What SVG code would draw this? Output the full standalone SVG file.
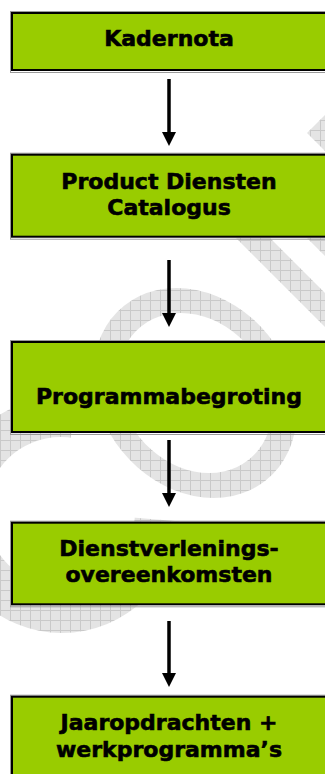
<svg xmlns="http://www.w3.org/2000/svg" width="325" height="774" viewBox="0 0 325 774">
<style>
.box{fill:#99CC00;stroke:#000;stroke-width:2}
.sh{fill:none;stroke:#9a9a9a;stroke-width:1}
.lbl{font-family:"DejaVu Sans",Verdana,sans-serif;font-weight:bold;font-size:22px;fill:#000;stroke:#000;stroke-width:0.6;text-anchor:middle}
.arr{stroke:#000;stroke-width:3.5;fill:none;marker-end:url(#ah)}
</style>
<defs>
<pattern id="grid" width="10" height="10" patternUnits="userSpaceOnUse">
<rect width="10" height="10" fill="#e4e4e4"/>
<path d="M0,0.5H10M0.5,0V10" stroke="#c9c9c9" stroke-width="1"/>
</pattern>
<mask id="wm" maskUnits="userSpaceOnUse" x="0" y="0" width="325" height="774">
<g fill="#fff" stroke="none">
<g id="letterC">
<circle cx="62" cy="515" r="118"/>
<circle cx="60.5" cy="511.5" r="74.5" fill="#000"/>
<polygon points="60.5,511.5 88,313 330,313 330,534" fill="#000"/>
</g>
<g transform="translate(195,393) skewX(10)">
<ellipse cx="0" cy="0" rx="100" ry="105"/>
<ellipse cx="0" cy="0" rx="76" ry="80" fill="#000"/>
</g>
<polygon points="307,133 328,112 328,154"/>
<polygon points="236,238 270,238 344,312 344,346"/>
<polygon points="307,238 330,238 330,261"/>
</g>
</mask>
<marker id="ah" markerUnits="userSpaceOnUse" markerWidth="14" markerHeight="14" refX="8" refY="7" orient="auto">
<path d="M0,0L14,7L0,14z" fill="#000"/>
</marker>
</defs>
<rect width="325" height="774" fill="#fff"/>
<g id="watermark">
<rect width="325" height="774" fill="url(#grid)" mask="url(#wm)"/>
</g>
<g id="connectors">
<line class="arr" x1="169" y1="79" x2="169" y2="140"/>
<line class="arr" x1="169" y1="260" x2="169" y2="321"/>
<line class="arr" x1="169" y1="440" x2="169" y2="501"/>
<line class="arr" x1="169" y1="621" x2="169" y2="681"/>
</g>
<g id="kadernota">
<rect class="sh" x="10.5" y="11.5" width="320" height="61"/>
<rect class="box" x="12" y="13" width="320" height="57"/>
<text class="lbl" x="169" y="45.7">Kadernota</text>
</g>
<g id="pdc">
<rect class="sh" x="10.5" y="153.2" width="320" height="86"/>
<rect class="box" x="12" y="154.7" width="320" height="82"/>
<text class="lbl" x="169" y="188.5">Product Diensten</text>
<text class="lbl" x="169" y="215">Catalogus</text>
</g>
<g id="programmabegroting">
<rect class="sh" x="10.5" y="340.5" width="320" height="94"/>
<rect class="box" x="12" y="342" width="320" height="90"/>
<text class="lbl" x="169" y="404">Programmabegroting</text>
</g>
<g id="dvo">
<rect class="sh" x="10.5" y="521.2" width="320" height="85.6"/>
<rect class="box" x="12" y="522.7" width="320" height="81.6"/>
<text class="lbl" x="169" y="556">Dienstverlenings-</text>
<text class="lbl" x="169" y="582.3">overeenkomsten</text>
</g>
<g id="jaaropdrachten">
<rect class="sh" x="10.5" y="695.2" width="320" height="86"/>
<rect class="box" x="12" y="696.7" width="320" height="82"/>
<text class="lbl" x="169" y="730">Jaaropdrachten +</text>
<text class="lbl" x="169" y="756.7">werkprogramma’s</text>
</g>
</svg>
